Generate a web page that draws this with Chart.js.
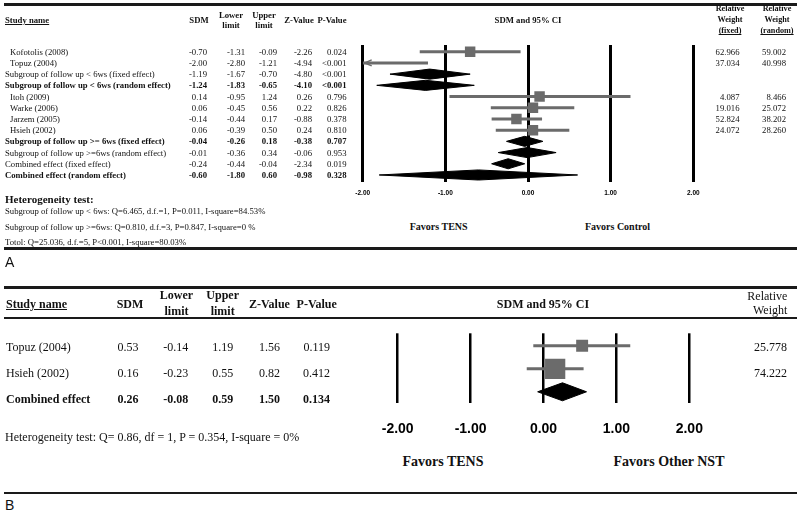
<!DOCTYPE html>
<html lang="en">
<head>
<meta charset="UTF-8">
<title>Forest plots</title>
<script src="https://cdn.jsdelivr.net/npm/chart.js"></script>
<style>
    body { margin: 0; background: #fff; }
    #page {
        position: relative;
        width: 800px;
        height: 515px;
        overflow: hidden;
        font-family: 'Liberation Serif', 'Times New Roman', serif;
        color: #111;
    }
    .t { position: absolute; white-space: nowrap; line-height: 1; }
    .rule { position: absolute; left: 4px; width: 793px; background: #1a1a1a; }
    canvas { position: absolute; left: 0; }
</style>
</head>
<body>
<div id="page">
    <canvas id="chartA" width="800" height="210" style="top:0"></canvas>
    <canvas id="chartB" width="800" height="170" style="top:280px"></canvas>
</div>
<script>
// ---- panel A data ----
const namesA = ['Kofotolis (2008)', 'Topuz (2004)', 'Subgroup of follow up < 6ws (fixed effect)',
    'Subgroup of follow up < 6ws (random effect)', 'Itoh (2009)', 'Warke (2006)', 'Jarzem (2005)',
    'Hsieh (2002)', 'Subgroup of follow up >= 6ws (fixed effect)', 'Subgroup of follow up >=6ws (random effect)',
    'Combined effect (fixed effect)', 'Combined effect (random effect)'];
const sdmA = [-0.70, -2.00, -1.19, -1.24, 0.14, 0.06, -0.14, 0.06, -0.04, -0.01, -0.24, -0.60];
const lowerA = [-1.31, -2.80, -1.67, -1.83, -0.95, -0.45, -0.44, -0.39, -0.26, -0.36, -0.44, -1.80];
const upperA = [-0.09, -1.21, -0.70, -0.65, 1.24, 0.56, 0.17, 0.50, 0.18, 0.34, -0.04, 0.60];
const zA = [-2.26, -4.94, -4.80, -4.10, 0.26, 0.22, -0.88, 0.24, -0.38, -0.06, -2.34, -0.98];
const pA = ['0.024', '<0.001', '<0.001', '<0.001', '0.796', '0.826', '0.378', '0.810', '0.707', '0.953', '0.019', '0.328'];
const weightFixedA = [62.966, 37.034, null, null, 4.087, 19.016, 52.824, 24.072, null, null, null, null];
const weightRandomA = [59.002, 40.998, null, null, 8.466, 25.072, 38.202, 28.260, null, null, null, null];
const summaryA = [false, false, true, true, false, false, false, false, true, true, true, true];
const boldA = [false, false, false, true, false, false, false, false, true, false, false, true];
const heteroA = ['Subgroup of follow up < 6ws: Q=6.465, d.f.=1, P=0.011, I-square=84.53%',
    'Subgroup of follow up >=6ws: Q=0.810, d.f.=3, P=0.847, I-square=0 %',
    'Totol: Q=25.036, d.f.=5, P<0.001, I-square=80.03%'];

// ---- panel B data ----
const namesB = ['Topuz (2004)', 'Hsieh (2002)', 'Combined effect'];
const sdmB = [0.53, 0.16, 0.26];
const lowerB = [-0.14, -0.23, -0.08];
const upperB = [1.19, 0.55, 0.59];
const zB = [1.56, 0.82, 1.50];
const pB = ['0.119', '0.412', '0.134'];
const weightB = [25.778, 74.222, null];
const summaryB = [false, false, true];
const heteroB = 'Heterogeneity test: Q= 0.86, df = 1, P = 0.354, I-square = 0%';

const axisTicks = [-2, -1, 0, 1, 2];
const X_MIN = -2, X_MAX = 2;
const GRAY = '#6b6b6b';
const page = document.getElementById('page');

function txt(s, x, y, o) {
    o = o || {};
    let d = document.createElement('div');
    let size = o.size || 8.7;
    d.className = 't';
    d.textContent = s;
    d.style.fontSize = size + 'px';
    if (o.bold) d.style.fontWeight = 'bold';
    if (o.underline) d.style.textDecoration = 'underline';
    if (o.sans) d.style.fontFamily = "'Liberation Sans', Arial, sans-serif";
    d.style.top = (y - size / 2) + 'px';
    if (o.align === 'right') {
        d.style.right = (800 - x) + 'px';
    } else if (o.align === 'center') {
        d.style.left = x + 'px';
        d.style.transform = 'translateX(-50%)';
    } else {
        d.style.left = x + 'px';
    }
    page.appendChild(d);
}

function rule(y, h) {
    let d = document.createElement('div');
    d.className = 'rule';
    d.style.top = y + 'px';
    d.style.height = h + 'px';
    page.appendChild(d);
}

// ---- panel A text ----
rule(3, 3);
txt('Study name', 5, 20.7, { bold: true, underline: true });
txt('SDM', 199, 20.7, { bold: true, align: 'center' });
txt('Lower', 231, 15.7, { bold: true, align: 'center' });
txt('limit', 231, 25.7, { bold: true, align: 'center' });
txt('Upper', 264, 15.7, { bold: true, align: 'center' });
txt('limit', 264, 25.7, { bold: true, align: 'center' });
txt('Z-Value', 299, 20.7, { bold: true, align: 'center' });
txt('P-Value', 332, 20.7, { bold: true, align: 'center' });
txt('SDM and 95% CI', 528, 20.7, { bold: true, align: 'center' });
[['(fixed)', 730], ['(random)', 777]].forEach(([last, cx]) => {
    txt('Relative', cx, 9.5, { bold: true, align: 'center', size: 8.2 });
    txt('Weight', cx, 20.5, { bold: true, align: 'center', size: 8.2 });
    txt(last, cx, 31.5, { bold: true, align: 'center', size: 8.2, underline: true });
});
namesA.forEach((name, i) => {
    let y = 52 + 11.22 * i;
    let b = boldA[i];
    txt(name, summaryA[i] ? 5 : 10, y, { bold: b });
    txt(sdmA[i].toFixed(2), 207, y, { bold: b, align: 'right' });
    txt(lowerA[i].toFixed(2), 245, y, { bold: b, align: 'right' });
    txt(upperA[i].toFixed(2), 277, y, { bold: b, align: 'right' });
    txt(zA[i].toFixed(2), 312, y, { bold: b, align: 'right' });
    txt(pA[i], 346.5, y, { bold: b, align: 'right' });
    if (weightFixedA[i] !== null) txt(weightFixedA[i].toFixed(3), 739.5, y, { align: 'right' });
    if (weightRandomA[i] !== null) txt(weightRandomA[i].toFixed(3), 786, y, { align: 'right' });
});
txt('Heterogeneity test:', 5, 199, { bold: true, size: 11 });
heteroA.forEach((s, i) => txt(s, 5, [211.7, 227.3, 242][i], {}));
txt('Favors TENS', 438.7, 227, { bold: true, size: 10, align: 'center' });
txt('Favors Control', 617.5, 227, { bold: true, size: 10, align: 'center' });
rule(247, 2.5);
txt('A', 5, 261.5, { sans: true, size: 14 });

// ---- panel B text ----
rule(286, 3);
txt('Study name', 6, 304, { bold: true, underline: true, size: 12 });
txt('SDM', 130, 304, { bold: true, align: 'center', size: 12 });
txt('Lower', 176.5, 295.2, { bold: true, align: 'center', size: 12 });
txt('limit', 176.5, 310.7, { bold: true, align: 'center', size: 12 });
txt('Upper', 222.7, 295.2, { bold: true, align: 'center', size: 12 });
txt('limit', 222.7, 310.7, { bold: true, align: 'center', size: 12 });
txt('Z-Value', 269.5, 304, { bold: true, align: 'center', size: 12 });
txt('P-Value', 316.7, 304, { bold: true, align: 'center', size: 12 });
txt('SDM and 95% CI', 543, 304, { bold: true, align: 'center', size: 12 });
txt('Relative', 787.3, 295.7, { align: 'right', size: 12 });
txt('Weight', 787.3, 310.2, { align: 'right', size: 12 });
rule(316.5, 2);
namesB.forEach((name, i) => {
    let y = 346.7 + 26.3 * i;
    let b = summaryB[i];
    txt(name, 6, y, { bold: b, size: 12 });
    txt(sdmB[i].toFixed(2), 138.5, y, { bold: b, align: 'right', size: 12 });
    txt(lowerB[i].toFixed(2), 188.3, y, { bold: b, align: 'right', size: 12 });
    txt(upperB[i].toFixed(2), 233.3, y, { bold: b, align: 'right', size: 12 });
    txt(zB[i].toFixed(2), 280, y, { bold: b, align: 'right', size: 12 });
    txt(pB[i], 330, y, { bold: b, align: 'right', size: 12 });
    if (weightB[i] !== null) txt(weightB[i].toFixed(3), 787, y, { align: 'right', size: 12 });
});
txt(heteroB, 5, 437, { size: 12 });
txt('Favors TENS', 443, 462, { bold: true, size: 14, align: 'center' });
txt('Favors Other NST', 669, 462, { bold: true, size: 14, align: 'center' });
rule(491.5, 2.5);
txt('B', 5, 505, { sans: true, size: 14 });

// ---- charts ----
function buildDatasets(sdm, lower, upper, summary, radiusFor, diamondHalf) {
    let sets = [];
    let squares = [];
    let radii = [];
    sdm.forEach((v, i) => {
        if (summary[i]) {
            sets.push({
                data: [{ x: lower[i], y: i }, { x: v, y: i - diamondHalf }, { x: upper[i], y: i },
                       { x: v, y: i + diamondHalf }, { x: lower[i], y: i }],
                showLine: true, fill: 'shape', backgroundColor: '#000', borderColor: '#000',
                borderWidth: 1, pointRadius: 0, tension: 0
            });
        } else {
            sets.push({
                data: [{ x: Math.max(lower[i], X_MIN), y: i }, { x: Math.min(upper[i], X_MAX), y: i }],
                showLine: true, borderColor: GRAY, borderWidth: 3, pointRadius: 0,
                arrowLeft: lower[i] < X_MIN
            });
            if (lower[i] >= X_MIN) {
                squares.push({ x: v, y: i });
                radii.push(radiusFor(i));
            }
        }
    });
    // first dataset is drawn on top
    sets.unshift({ data: squares, pointStyle: 'rect', pointRadius: radii, backgroundColor: GRAY, borderWidth: 0 });
    return sets;
}

const arrowPlugin = {
    id: 'arrows',
    afterDatasetsDraw(chart) {
        const { ctx, scales } = chart;
        chart.data.datasets.forEach(ds => {
            if (!ds.arrowLeft) return;
            let px = scales.x.getPixelForValue(ds.data[0].x) + 2;
            let py = scales.y.getPixelForValue(ds.data[0].y);
            ctx.save();
            ctx.strokeStyle = GRAY;
            ctx.lineWidth = 1.5;
            ctx.beginPath();
            ctx.moveTo(px + 7, py - 3);
            ctx.lineTo(px, py);
            ctx.lineTo(px + 7, py + 3);
            ctx.stroke();
            ctx.restore();
        });
    }
};

function makeChart(id, datasets, o) {
    return new Chart(document.getElementById(id), {
        type: 'scatter',
        data: { datasets: datasets },
        plugins: [arrowPlugin],
        options: {
            responsive: false,
            animation: false,
            layout: { padding: o.padding },
            plugins: { legend: { display: false }, tooltip: { enabled: false } },
            scales: {
                x: {
                    type: 'linear', min: X_MIN, max: X_MAX,
                    afterFit: s => { s.height = o.axisHeight; },
                    afterBuildTicks: s => { s.ticks = axisTicks.map(v => ({ value: v })); },
                    ticks: {
                        callback: v => v.toFixed(2), color: '#000', padding: o.tickPad,
                        maxRotation: 0, autoSkip: false,
                        font: { family: "'Liberation Sans', Arial, sans-serif", weight: 'bold', size: o.tickSize }
                    },
                    grid: { color: '#000', lineWidth: o.gridWidth, drawTicks: false },
                    border: { display: false }
                },
                y: { type: 'linear', min: o.yMin, max: o.yMax, reverse: true, display: false }
            }
        }
    });
}

makeChart('chartA', buildDatasets(sdmA, lowerA, upperA, summaryA, () => 7.4, 0.45), {
    padding: { left: 362.7, right: 106.7, top: 45, bottom: 8.3 },
    axisHeight: 20, tickPad: 8, tickSize: 6.5, gridWidth: 3, yMin: -0.6, yMax: 11.6
});

makeChart('chartB', buildDatasets(sdmB, lowerB, upperB, summaryB,
    i => 2.35 * Math.sqrt(weightB[i]) * 0.7071, 0.39), {
    padding: { left: 397.7, right: 110.7, top: 53.3, bottom: 10.7 },
    axisHeight: 36, tickPad: 17, tickSize: 14, gridWidth: 2.5, yMin: -0.54, yMax: 2.5
});
</script>
</body>
</html>
